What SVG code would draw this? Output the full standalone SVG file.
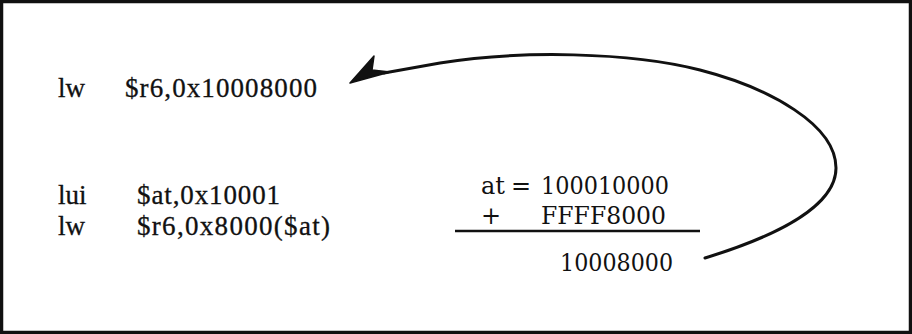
<svg xmlns="http://www.w3.org/2000/svg" width="912" height="334" viewBox="0 0 912 334">
<style>
.l{font-family:"Liberation Serif","Times New Roman",serif;font-size:27px;fill:#111;stroke:#111;stroke-width:0.3}
.r{font-family:"DejaVu Serif","Liberation Serif",serif;font-size:24px;fill:#111}
.conn{fill:none;stroke:#111;stroke-width:3;stroke-linecap:round}
</style>
<rect x="1.5" y="1.5" width="909" height="331" fill="#fff" stroke="#111" stroke-width="3.5"/>
<g id="instr-lw1">
<text class="l" x="58" y="97">lw</text>
<text class="l" x="125" y="97" textLength="192" lengthAdjust="spacing">$r6,0x10008000</text>
</g>
<g id="instr-lui">
<text class="l" x="58" y="204">lui</text>
<text class="l" x="137" y="204" textLength="143" lengthAdjust="spacing">$at,0x10001</text>
</g>
<g id="instr-lw2">
<text class="l" x="58" y="235">lw</text>
<text class="l" x="137" y="235" textLength="193" lengthAdjust="spacing">$r6,0x8000($at)</text>
</g>
<g id="sum">
<text class="r" x="481" y="194">at</text>
<text class="r" x="511" y="194">=</text>
<text class="r" x="541" y="194" textLength="128" lengthAdjust="spacingAndGlyphs">100010000</text>
<text class="r" x="481" y="224">+</text>
<text class="r" x="541" y="224" textLength="125" lengthAdjust="spacingAndGlyphs">FFFF8000</text>
<line x1="455" y1="231" x2="700" y2="231" stroke="#111" stroke-width="2.5"/>
<text class="r" x="560" y="271" textLength="113" lengthAdjust="spacingAndGlyphs">10008000</text>
</g>
<g id="connectors">
<path class="conn" d="M705,258 C780,235 836,205 836,168 C836,125 770,88 700,70 C630,52 520,50 440,63 L384,73"/>
<polygon points="350,83 374,56 372,70 390,72" fill="#111" stroke="#111" stroke-width="1.5" stroke-linejoin="round"/>
</g>
</svg>
